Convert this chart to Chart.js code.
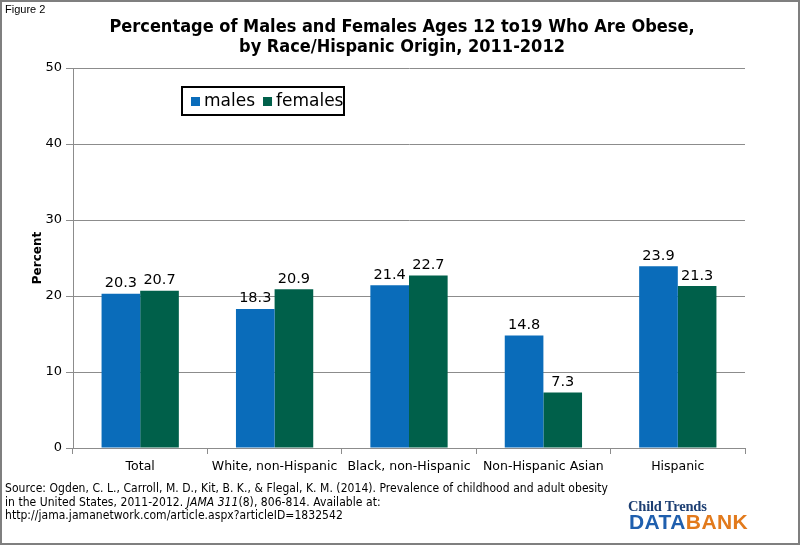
<!DOCTYPE html>
<html><head><meta charset="utf-8">
<script src="https://cdn.jsdelivr.net/npm/chart.js@4.4.1/dist/chart.umd.min.js"></script>
<style>
html,body{margin:0;padding:0;background:#fff;}
#wrap{position:relative;width:800px;height:545px;box-sizing:border-box;border:2px solid #7f7f7f;overflow:hidden;background:#fff;}
#c{position:absolute;left:-2px;top:-2px;}
#fig{position:absolute;left:3px;top:1px;font:11px "Liberation Sans",Arial,sans-serif;color:#000;}
#title{position:absolute;left:0;width:800px;top:14px;text-align:center;font:bold 18px "DejaVu Sans",sans-serif;font-stretch:condensed;line-height:20px;color:#000;}
#src{position:absolute;left:3px;top:480px;font:12px "DejaVu Sans",sans-serif;font-stretch:condensed;line-height:13.5px;color:#000;letter-spacing:0.05px;}
#logo1{position:absolute;left:626px;top:496px;font:bold 14.5px "Liberation Serif","Times New Roman",serif;color:#1d3f73;letter-spacing:-0.2px;}
#logo2{position:absolute;left:627px;top:509px;font:bold 21px "Liberation Sans",Arial,sans-serif;letter-spacing:0.4px;line-height:22px;}
#logo2 .a{color:#1f5fae;} #logo2 .b{color:#e27a1c;}
</style></head>
<body>
<div id="wrap">
<canvas id="c" width="800" height="545"></canvas>
<div id="fig">Figure 2</div>
<div id="title">Percentage of Males and Females Ages 12 to19 Who Are Obese,<br>by Race/Hispanic Origin, 2011-2012</div>
<div id="src">Source: Ogden, C. L., Carroll, M. D., Kit, B. K., &amp; Flegal, K. M. (2014). Prevalence of childhood and adult obesity<br>in the United States, 2011-2012. <i>JAMA 311</i>(8), 806-814. Available at:<br>http://jama.jamanetwork.com/article.aspx?articleID=1832542</div>
<div id="logo1">Child Trends</div>
<div id="logo2"><span class="a">DATA</span><span class="b">BANK</span></div>
</div>
<script>
const categories = ["Total", "White, non-Hispanic", "Black, non-Hispanic", "Non-Hispanic Asian", "Hispanic"];
const males = [20.3, 18.3, 21.4, 14.8, 23.9];
const females = [20.7, 20.9, 22.7, 7.3, 21.3];
const seriesNames = ["males", "females"];
const yTicks = [0, 10, 20, 30, 40, 50];

const BLUE = "#0a6cba", GREEN = "#00604a", GRID = "#8c8c8c";

const labelPlugin = {
  id: "barLabels",
  afterDatasetsDraw(chart) {
    const ctx = chart.ctx;
    ctx.save();
    ctx.font = "14.5px 'DejaVu Sans', sans-serif";
    ctx.fillStyle = "#000";
    ctx.textAlign = "center";
    ctx.textBaseline = "bottom";
    chart.data.datasets.forEach((ds, i) => {
      chart.getDatasetMeta(i).data.forEach((bar, j) => {
        ctx.fillText(ds.data[j].toFixed(1), bar.x, bar.y - 3);
      });
    });
    ctx.restore();
  }
};

const legendPlugin = {
  id: "boxLegend",
  afterDraw(chart) {
    const ctx = chart.ctx, a = chart.chartArea;
    const x0 = a.left + 109, y0 = a.top + 19, w = 162, h = 28;
    ctx.save();
    ctx.fillStyle = "#fff";
    ctx.fillRect(x0, y0, w, h);
    ctx.lineWidth = 2;
    ctx.strokeStyle = "#000";
    ctx.strokeRect(x0, y0, w, h);
    ctx.font = "17px 'DejaVu Sans', sans-serif";
    ctx.textBaseline = "middle";
    let x = x0 + 9;
    chart.data.datasets.forEach(ds => {
      ctx.fillStyle = ds.backgroundColor;
      ctx.fillRect(x, y0 + h/2 - 4, 9, 9);
      x += 13;
      ctx.fillStyle = "#000";
      ctx.fillText(ds.label, x, y0 + h/2 + 1);
      x += ctx.measureText(ds.label).width + 8;
    });
    ctx.restore();
  }
};

new Chart(document.getElementById("c"), {
  type: "bar",
  data: {
    labels: categories,
    datasets: [
      {label: seriesNames[0], data: males, backgroundColor: BLUE},
      {label: seriesNames[1], data: females, backgroundColor: GREEN}
    ]
  },
  options: {
    responsive: false,
    animation: false,
    events: [],
    layout: {padding: {left: 31, right: 55, top: 68, bottom: 0}},
    datasets: {bar: {barPercentage: 1.0, categoryPercentage: 0.575}},
    plugins: {legend: {display: false}, tooltip: {enabled: false}, title: {display: false}},
    scales: {
      x: {
        grid: {display: true, drawOnChartArea: false, offset: true, color: GRID, tickLength: 6, tickColor: GRID},
        border: {color: GRID, width: 1},
        ticks: {font: {family: "DejaVu Sans", size: 12.5}, color: "#000", padding: 5, maxRotation: 0},
        afterFit(s) { s.height = 97; }
      },
      y: {
        min: 0, max: 50,
        afterBuildTicks(s) { s.ticks = yTicks.map(v => ({value: v})); },
        grid: {color: GRID, tickLength: 7, tickColor: GRID},
        border: {color: GRID, width: 1},
        ticks: {font: {family: "DejaVu Sans", size: 13}, color: "#000", padding: 4},
        title: {display: true, text: "Percent", font: {family: "DejaVu Sans", size: 12, weight: "bold"}, color: "#000", padding: 0},
        afterFit(s) { s.width = 42; }
      }
    }
  },
  plugins: [labelPlugin, legendPlugin]
});
</script>
</body></html>
